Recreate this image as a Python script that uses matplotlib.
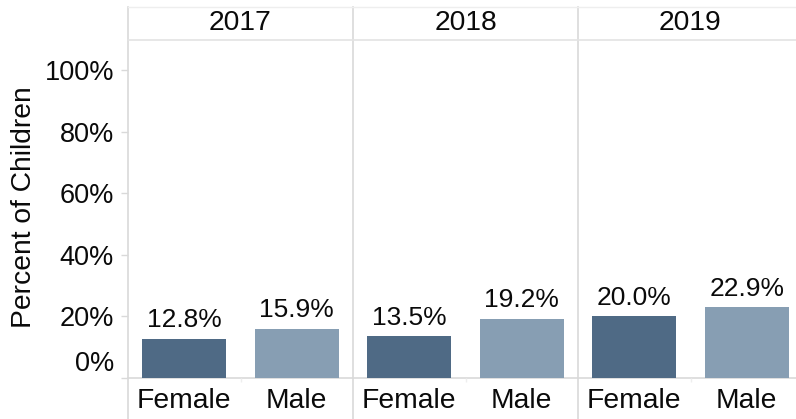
import matplotlib
matplotlib.use("Agg")
import matplotlib.pyplot as plt
from matplotlib.lines import Line2D
from matplotlib.transforms import ScaledTranslation

years = ["2017", "2018", "2019"]
genders = ["Female", "Male"]
female_pct = [12.8, 13.5, 20.0]
male_pct = [15.9, 19.2, 22.9]
y_ticks = [0, 20, 40, 60, 80, 100]
y_tick_labels = ["0%", "20%", "40%", "60%", "80%", "100%"]

colors = {"Female": "#4F6A85", "Male": "#879EB3"}
grid_col = "#d9d9d9"
txt_col = "#0a0a0a"

plt.rcParams["font.family"] = ["Liberation Sans", "DejaVu Sans"]
FS_ANN = 19
FS_TICK = 19.5
FS_BIG = 20.3

W, H = 796, 419
fig = plt.figure(figsize=(W / 100, H / 100), dpi=100)

def fx(px):
    return px / W

def fy(py):
    return 1 - py / H

plot_left, panel_w = 128, 225
top_px, base_px = 40, 378
px_per_pct = (378 - 70) / 100.0
ymax = (base_px - top_px) / px_per_pct

axes = []
for i, yr in enumerate(years):
    left = plot_left + panel_w * i
    ax = fig.add_axes([fx(left), fy(base_px), panel_w / W, (base_px - top_px) / H])
    vals = [female_pct[i], male_pct[i]]
    for j, g in enumerate(genders):
        ax.bar(j, vals[j], width=0.75, color=colors[g], zorder=2)
        ax.annotate(f"{vals[j]:.1f}%", (j, vals[j]), xytext=(0, 8.5),
                    textcoords="offset points", ha="center", va="baseline",
                    fontsize=FS_ANN, color=txt_col)
    ax.set_xlim(-0.5, 1.5)
    ax.set_ylim(0, ymax)
    for s in ax.spines.values():
        s.set_visible(False)
    ax.axhline(0, color=grid_col, lw=1.2, zorder=1, clip_on=False)
    ax.set_xticks([0, 1])
    ax.set_xticklabels(genders, fontsize=FS_BIG, color=txt_col)
    ax.tick_params(axis="x", length=0, pad=7)
    ax.set_xticks([0.5], minor=True)
    ax.tick_params(axis="x", which="minor", length=3, color="#eeeeee", width=1)
    ax.set_yticks(y_ticks)
    if i == 0:
        ax.set_yticklabels(y_tick_labels, fontsize=FS_TICK, color=txt_col)
        ax.tick_params(axis="y", length=5, color=grid_col, width=1, pad=5)
    else:
        ax.tick_params(axis="y", length=0, labelleft=False)
    ax.text(0.5, 1 + (top_px - 23.5) / (base_px - top_px), yr, transform=ax.transAxes,
            ha="center", va="center", fontsize=FS_BIG, color=txt_col)
    axes.append(ax)

# shift the 0% label up like the reference
lab0 = axes[0].get_yticklabels()[0]
lab0.set_transform(lab0.get_transform() + ScaledTranslation(0, 17 / 100, fig.dpi_scale_trans))

# frame lines
for i in range(3):
    xp = plot_left + panel_w * i
    fig.add_artist(Line2D([fx(xp), fx(xp)], [fy(7), fy(419)], color=grid_col, lw=1.2))
fig.add_artist(Line2D([fx(plot_left), 1], [fy(7), fy(7)], color="#eeeeee", lw=1))
fig.add_artist(Line2D([fx(plot_left), 1], [fy(40), fy(40)], color="#e3e3e3", lw=1.2))

fig.text(fx(24), fy(207), "Percent of Children", rotation=90, ha="center", va="center",
         fontsize=FS_BIG, color=txt_col)

fig.savefig("out.png", dpi=100)
